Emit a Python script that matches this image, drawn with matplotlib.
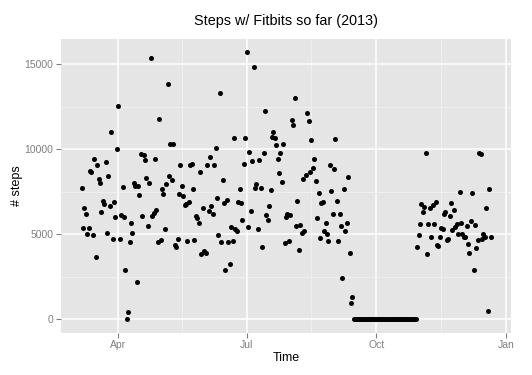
import pandas as pd
import matplotlib.pyplot as plt
import matplotlib.dates as mdates
import numpy as np

# daily step counts, 2013
start_day = '2013-03-06'
steps = [
    7700, 5390, 6530, 6190, 5040, 5390, 8700, 8640, 4940, 9430,
    3690, 9060, 8250, 8020, 6310, 6940, 6780, 9230, 5080, 8410,
    6630, 10980, 4740, 6900, 6000, 10020, 12540, 4740, 6150, 7760,
    6020, 2900, 0, 410, 4570, 5660, 5060, 8020, 7840, 2180,
    7820, 7290, 9740, 6060, 9660, 9370, 8330,
    5490, 7980, 15350, 6080, 6270, 9390, 6430, 4550, 11780, 4670,
    7640, 7390, 5330, 7960, 13840, 8410, 10290, 8190, 10290, 4350,
    4270, 4700, 7350, 9040, 7860, 7230, 6700, 6780, 4590, 6880,
    9040, 9150, 7660, 4670, 6080, 5940, 5680, 8680, 3860, 6530,
    4040, 3920, 9060, 6390, 9550, 6680, 6210, 9040, 10070, 7120,
    4980, 13310, 4570, 8210, 6860, 2920, 7020, 4530, 3230, 5450,
    4590, 10680, 5310, 5160, 6920, 7660, 6860, 5820, 9130, 10660,
    15700, 5410, 9820, 6370, 9290, 14820, 7700, 7940, 5310, 9350,
    7720, 4250, 9780, 12250, 6150, 5860, 6640, 7590, 10700, 11020,
    10640, 10230, 9430, 8590, 9760, 8080, 10310, 4470, 6040,
    6210, 4590, 6140, 11720, 11410, 13030, 5510, 6940, 4060, 5570,
    5100, 8270, 5160, 8490, 12110, 11660, 8640, 10510, 8900, 9430,
    8110, 5980, 7450, 4780, 6820, 6880, 5170, 5680, 5040, 4590,
    9040, 7550, 6210, 8860, 10600, 6960, 4630, 6190, 5490, 2410,
    7680, 5190, 5650, 8350, 3900, 980, 1310,
    0, 0, 0, 0, 0, 0, 0, 0, 0, 0,
    0, 0, 0, 0, 0, 0, 0, 0, 0, 0,
    0, 0, 0, 0, 0, 0, 0, 0, 0, 0,
    0, 0, 0, 0, 0, 0, 0, 0, 0, 0,
    0, 0, 0, 0, 0,
    4230, 4950, 5580, 6750, 6300, 6600, 9770, 3820, 5620, 6540,
    4830, 6710, 5600, 6910, 4350, 4310, 4830, 5340, 5280, 6200,
    6300, 4640, 4700, 6090, 6850, 5250, 6400, 5440, 5580, 5010,
    7500, 5660, 4990, 4850, 4830, 5500, 4400, 3910, 5770, 7420,
    2920, 5520, 4170, 4640, 9770, 9710, 4720, 5030, 4830, 6560,
    490, 7670, 4850,
]
x_ticks = ['2013-04-01', '2013-07-01', '2013-10-01', '2014-01-01']
x_labels = ['Apr', 'Jul', 'Oct', 'Jan']
y_ticks = [0, 5000, 10000, 15000]

dates = pd.date_range(start_day, periods=len(steps), freq='D')
xd = mdates.date2num(dates.to_pydatetime())
steps = np.array(steps)

plt.rcParams['font.family'] = ['Liberation Sans', 'DejaVu Sans']

fig = plt.figure(figsize=(5.32, 3.75), dpi=100)
ax = fig.add_axes([0.115, 0.1128, 0.8455, 0.784])
ax.set_facecolor('#E5E5E5')

# ggplot-like limits (5% expansion)
span = xd.max() - xd.min()
ax.set_xlim(xd.min() - 0.05 * span, xd.max() + 0.05 * span)
ax.set_ylim(-0.05 * steps.max(), steps.max() * 1.05)

major_x = mdates.date2num(pd.to_datetime(x_ticks).to_pydatetime())
minor_x = (major_x[:-1] + major_x[1:]) / 2
ax.set_xticks(major_x)
ax.set_xticklabels(x_labels)
ax.set_xticks(minor_x, minor=True)
ax.set_yticks(y_ticks)
ax.set_yticklabels([str(v) for v in y_ticks])
ax.set_yticks([2500, 7500, 12500], minor=True)

ax.grid(which='major', color='white', linewidth=1.1)
ax.grid(which='minor', color='#F2F2F2', linewidth=0.6)
ax.set_axisbelow(True)
for s in ax.spines.values():
    s.set_visible(False)
ax.tick_params(which='major', length=3.5, color='#7F7F7F', labelcolor='#7F7F7F',
               labelsize=7.5, width=0.8, pad=2)
ax.tick_params(which='minor', length=0)

ax.scatter(xd, steps, s=13, color='black', linewidths=0, zorder=3)

ax.set_title('Steps w/ Fitbits so far (2013)', fontsize=10.4, pad=10)
ax.set_xlabel('Time', fontsize=9, labelpad=1)
ax.set_ylabel('# steps', fontsize=9, labelpad=1)

fig.savefig('out.png', dpi=100)
